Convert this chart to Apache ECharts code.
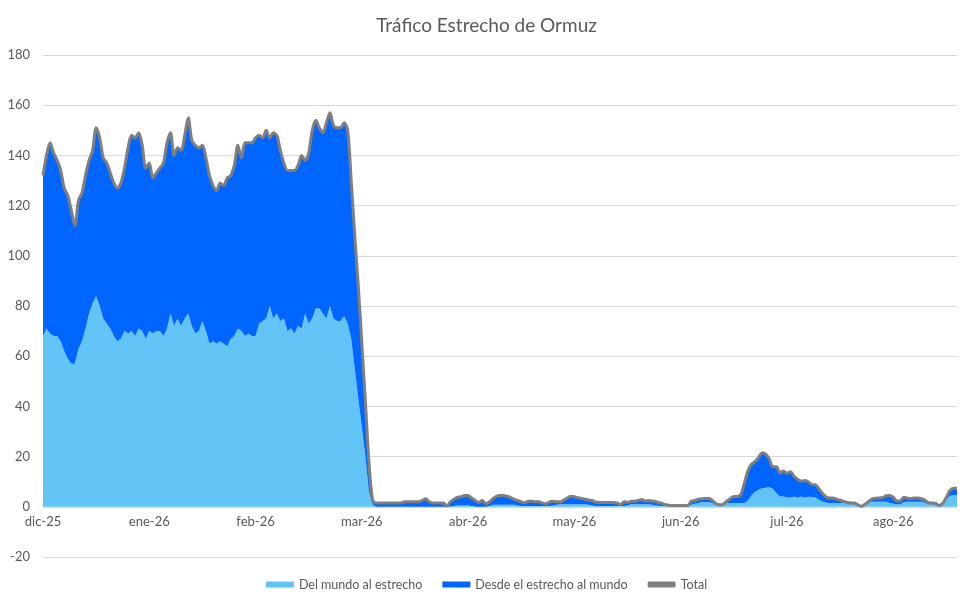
<!DOCTYPE html>
<html>
  <head>
    <meta charset="utf-8" />
    <title>Tráfico Estrecho de Ormuz</title>
    <script src="https://cdn.jsdelivr.net/npm/echarts@6/dist/echarts.min.js"></script>
    <style>
      * {
        margin: 0;
        padding: 0;
        box-sizing: border-box;
      }
      body {
        background: #fff;
      }
    </style>
  </head>
  <body>
    <div id="main" style="width: 973px; height: 607px"></div>
    <script type="text/javascript">
      // etiquetas del eje X (una cada 30 puntos)
      const tickLabels = ["dic-25", "ene-26", "feb-26", "mar-26", "abr-26", "may-26", "jun-26", "jul-26", "ago-26"];
      const tickStep = 30;

      // Total (línea gris)
      const total = [
        132, 140, 145, 141, 138, 134, 127, 124, 118, 112,
        122, 125, 132, 138, 142, 151, 147, 139, 137, 133,
        129, 127, 129, 135, 143, 148, 147, 149, 144, 135,
        137, 131, 133, 135, 137, 145, 149, 140, 143, 142,
        148, 155, 146, 144, 143, 144, 139, 132, 128, 126,
        129, 128, 131, 132, 136, 144, 139, 145, 145, 145,
        147, 148, 147, 150, 147, 149, 148, 142, 137, 134,
        134, 134, 136, 140, 138, 141, 150, 154, 151, 149,
        153, 157, 152, 151, 151, 153, 150, 130, 108, 88,
        65, 42, 18, 3, 1.5, 1.5, 1.5, 1.5, 1.5, 1.5,
        1.5, 1.5, 2, 2, 2, 2, 2, 2.5, 3.2, 2,
        1.5, 1.5, 1.5, 1.5, 0.3, 2, 3, 3.8, 4, 4.5,
        4.5, 3.5, 2.5, 1.7, 2.5, 1.2, 2, 3.2, 4.2, 4.5,
        4.5, 4.2, 3.7, 3, 2.5, 2, 1.6, 2.2, 2.2, 2,
        2, 1.5, 1.2, 2, 2.2, 2, 2, 2.7, 3.5, 4.2,
        4, 3.6, 3.3, 3, 2.7, 2.5, 1.9, 1.7, 1.7, 1.7,
        1.7, 1.7, 1.5, 0.9, 2, 1.8, 2.2, 2.2, 2.5, 2.9,
        2.3, 2.5, 2.3, 2, 1.6, 1.2, 0.8, 0.5, 0.5, 0.5,
        0.5, 0.5, 0.5, 2.2, 2.5, 3, 3.2, 3.3, 3.3, 2.5,
        1.2, 0.8, 1, 2.2, 3.3, 4.1, 4.1, 5, 9.5, 14.5,
        17, 18, 19.7, 21.5, 21, 19, 16, 16, 13.5, 14.3,
        13.3, 14, 12.1, 11, 10.2, 10.5, 10, 8.8, 8.8, 7.2,
        5.5, 4, 3.5, 3.5, 3, 2.7, 2.1, 1.7, 1.5, 1.5,
        0.8, 0.2, 1, 2, 3.1, 3.4, 3.5, 3.7, 4.4, 4.5,
        3.8, 2.3, 2.3, 3.8, 3.4, 3.3, 3.5, 3.5, 3.2, 2.6,
        1.6, 1.5, 1.3, 0.5, 1.4, 3.8, 6.5, 7.4, 7.4,
      ];

      // Del mundo al estrecho (azul claro)
      const delMundo = [
        68, 71, 69, 68, 68, 66, 62, 59, 57, 57,
        63, 66, 71, 77, 81, 84, 80, 75, 73, 71,
        68, 66, 67, 70, 69, 70, 68, 71, 70, 67,
        70, 69, 70, 70, 68, 71, 77, 72, 75, 72,
        75, 77, 72, 69, 70, 74, 70, 65, 66, 65,
        66, 65, 64, 67, 68, 71, 70, 68, 69, 68,
        68, 73, 74, 75, 80, 75, 77, 74, 75, 70,
        71, 69, 72, 71, 77, 73, 75, 79, 79, 77,
        75, 80, 75, 74, 74, 76, 73, 67, 55, 43,
        32, 20, 6, 1, 0, 0, 0, 0, 0, 0,
        0, 0, 0, 0, 0, 0, 0, 0, 0, 0,
        0, 0, 0, 0, 0, 0, 0.3, 0.5, 0.5, 0.5,
        0.5, 0.3, 0, 0, 0, 0, 0.3, 0.8, 0.8, 0.8,
        0.8, 0.8, 0.8, 0.8, 0.5, 0.3, 0.3, 0.3, 0.3, 0.3,
        0.3, 0.3, 0.3, 0.3, 0.5, 0.8, 1, 1, 1, 1,
        1, 1, 1, 1, 0.8, 0.5, 0.3, 0.3, 0.3, 0.3,
        0.3, 0.3, 0.3, 0.3, 0.3, 0.5, 1, 1, 1, 1,
        1, 1, 0.8, 0.5, 0.3, 0.3, 0.3, 0.3, 0.3, 0.3,
        0.3, 0.3, 0.3, 0.8, 1.2, 1.5, 1.8, 1.8, 1.8, 1.5,
        0.8, 0.6, 0.8, 1.5, 1.5, 1.5, 1.5, 1.5, 1.5, 2.5,
        4.5, 6, 6.8, 7.4, 7.6, 7.8, 7.2, 5.5, 4.1, 4.1,
        3.8, 3.6, 4.1, 3.6, 4.1, 3.6, 4, 3.9, 3.7, 2.9,
        2.1, 1.6, 1.5, 1.5, 1.5, 1.5, 1.5, 1.4, 1.3, 1.2,
        0.6, 0.1, 0.8, 1.8, 2, 2, 2, 2, 2, 1.5,
        1.2, 1, 1, 1.8, 2, 2, 2, 2, 2, 1.5,
        1, 1, 1, 0.4, 1, 3, 4.3, 4.7, 4.7,
      ];

      // Desde el estrecho al mundo = total - del mundo (azul oscuro, apilado)
      const desdeEstrecho = total.map((t, i) => Math.round((t - delMundo[i]) * 10) / 10);
      const days = total.map((t, i) => String(i));

      const textColor = "#595959";
      const fontFamily = "Lato, 'Open Sans', sans-serif";

      var myChart = echarts.init(document.getElementById("main"));

      var option = {
        animation: false,
        textStyle: { fontFamily: fontFamily },
        title: {
          text: "Tráfico Estrecho de Ormuz",
          left: "center",
          top: 11,
          textStyle: {
            fontFamily: fontFamily,
            fontSize: 19,
            fontWeight: "normal",
            color: textColor,
          },
        },
        legend: {
          bottom: 11,
          left: "center",
          itemWidth: 28,
          itemHeight: 6,
          itemGap: 20,
          textStyle: { fontFamily: fontFamily, fontSize: 12.5, color: textColor },
          data: [
            { name: "Del mundo al estrecho", icon: "rect" },
            { name: "Desde el estrecho al mundo", icon: "rect" },
            { name: "Total", icon: "roundRect" },
          ],
        },
        grid: {
          left: 43,
          right: 16,
          top: 55,
          bottom: 50,
        },
        xAxis: {
          type: "category",
          boundaryGap: false,
          data: days,
          // eje dibujado en y = 0 (una línea de división por encima del borde inferior)
          offset: -50.2,
          axisLine: { onZero: false, lineStyle: { color: "#d9d9d9", width: 1 } },
          axisTick: { show: false },
          axisLabel: {
            interval: function (idx) {
              return idx % tickStep === 0;
            },
            formatter: function (value, idx) {
              return tickLabels[Math.round(idx / tickStep)] || "";
            },
            margin: 9,
            color: textColor,
            fontSize: 13,
            fontFamily: fontFamily,
          },
          splitLine: { show: false },
        },
        yAxis: {
          type: "value",
          min: -20,
          max: 180,
          interval: 20,
          axisLine: { show: false },
          axisTick: { show: false },
          axisLabel: {
            margin: 13,
            color: textColor,
            fontSize: 13,
            fontFamily: fontFamily,
          },
          splitLine: { lineStyle: { color: "#d9d9d9", width: 1 } },
        },
        series: [
          {
            name: "Del mundo al estrecho",
            type: "line",
            stack: "trafico",
            symbol: "none",
            lineStyle: { width: 0 },
            itemStyle: { color: "#62C3F5" },
            areaStyle: { color: "#62C3F5", opacity: 1 },
            data: delMundo,
            z: 2,
          },
          {
            name: "Desde el estrecho al mundo",
            type: "line",
            stack: "trafico",
            symbol: "none",
            lineStyle: { width: 0 },
            itemStyle: { color: "#0066FF" },
            areaStyle: { color: "#0066FF", opacity: 1 },
            data: desdeEstrecho,
            z: 2,
          },
          {
            name: "Total",
            type: "line",
            symbol: "none",
            smooth: 0.3,
            lineStyle: { width: 3, color: "#7F7F7F" },
            itemStyle: { color: "#7F7F7F" },
            data: total,
            z: 3,
          },
        ],
      };

      myChart.setOption(option);

      window.addEventListener("resize", function () {
        myChart.resize();
      });
    </script>
  </body>
</html>
